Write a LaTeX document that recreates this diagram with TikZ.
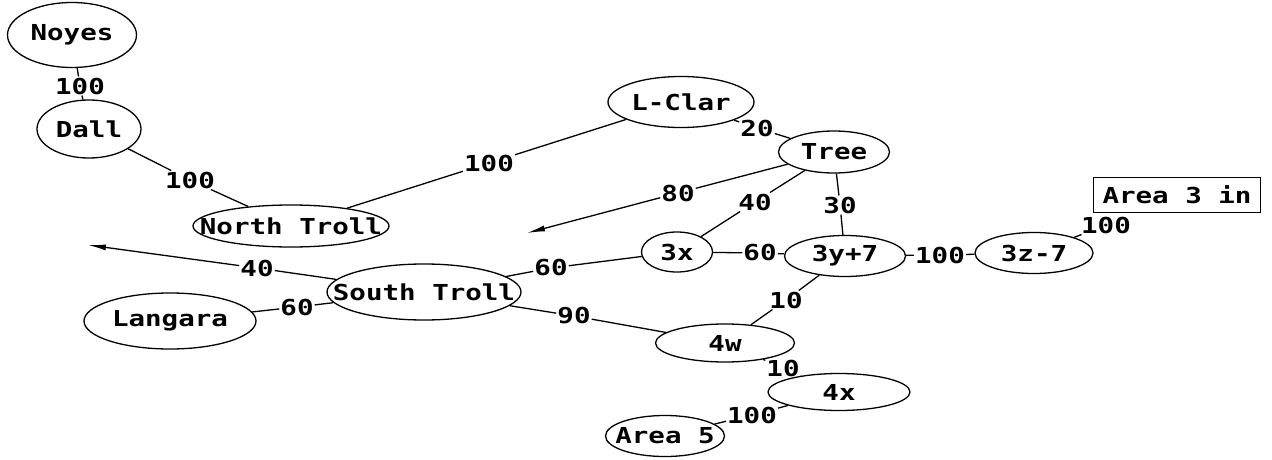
\documentclass[tikz,border=0pt]{standalone}
\usepackage{fontspec}
\newfontfamily\labfont[FakeStretch=1.25]{DejaVu Sans Mono Bold}
\usetikzlibrary{shapes.geometric,arrows.meta}
\newcommand\zw[1]{\makebox[0pt]{#1}}
\begin{document}
\begin{tikzpicture}[x=1pt,y=-1pt,
  every node/.style={font=\labfont\fontsize{22}{24}\selectfont},
  ell/.style={draw,ellipse,line width=1.3pt,inner sep=0pt},
  boxnode/.style={draw,rectangle,line width=1.3pt,inner sep=0pt},
  lab/.style={inner sep=1pt},
  edge/.style={line width=1.3pt},
  arr/.style={line width=1.3pt,-{Latex[length=18pt,width=6pt]}}]
\useasboundingbox (0,0) rectangle (1272,460);
% nodes
\node[ell,minimum width=129pt,minimum height=65pt] (noyes) at (72,35) {\zw{Noyes}};
\node[ell,minimum width=104pt,minimum height=58pt] (dall) at (89,129) {\zw{Dall}};
\node[ell,minimum width=196pt,minimum height=42pt] (north) at (291,226) {\zw{North Troll}};
\node[ell,minimum width=146pt,minimum height=51pt] (lclar) at (681,102) {\zw{L-Clar}};
\node[ell,minimum width=111pt,minimum height=42pt] (tree) at (834,152) {\zw{Tree}};
\node[ell,minimum width=71pt,minimum height=40pt] (x3) at (677,252) {\zw{3x}};
\node[ell,minimum width=121pt,minimum height=41pt] (y3) at (845,256) {\zw{3y+7}};
\node[ell,minimum width=118pt,minimum height=41pt] (z3) at (1034,253) {\zw{3z-7}};
\node[boxnode,minimum width=167pt,minimum height=35pt] (area3) at (1177,195) {\zw{Area 3 in}};
\node[ell,minimum width=194pt,minimum height=56pt] (south) at (424,292) {\zw{South Troll}};
\node[ell,minimum width=172pt,minimum height=56pt] (langara) at (170,321) {\zw{Langara}};
\node[ell,minimum width=139pt,minimum height=38pt] (w4) at (725,343) {\zw{4w}};
\node[ell,minimum width=142pt,minimum height=37pt] (x4) at (839,392) {\zw{4x}};
\node[ell,minimum width=119pt,minimum height=41pt] (area5) at (665,436) {\zw{Area 5}};
% labels
\node[lab] (lnd) at (80,86) {100};
\node[lab] (ldn) at (190,180) {100};
\node[lab] (lln) at (489,163) {100};
\node[lab] (llt) at (757,128) {20};
\node[lab] (lt80) at (678,193) {80};
\node[lab] (lt40) at (755,202) {40};
\node[lab] (lt30) at (840,205) {30};
\node[lab] (lx60) at (760,253) {60};
\node[lab] (ly100) at (940,255) {100};
\node[lab] (lz100) at (1106,225) {100};
\node[lab] (ls40) at (257,268) {40};
\node[lab] (lls60) at (297,307) {60};
\node[lab] (ls60) at (551,268) {60};
\node[lab] (ls90) at (574,316) {90};
\node[lab] (ly10) at (786,300) {10};
\node[lab] (lw10) at (783,368) {10};
\node[lab] (lx100) at (752,415) {100};
% free ends
\coordinate (arrL) at (88,245);
\coordinate (arrM) at (527,233);
% connectors
\draw[edge] (noyes) -- (lnd) -- (dall);
\draw[edge] (dall) -- (ldn) -- (north);
\draw[edge] (lclar) -- (lln) -- (north);
\draw[edge] (lclar) -- (llt) -- (tree);
\draw[arr] (tree) -- (lt80) -- (arrM);
\draw[edge] (tree) -- (lt40) -- (x3);
\draw[edge] (tree) -- (lt30) -- (y3);
\draw[edge] (x3) -- (lx60) -- (y3);
\draw[edge] (y3) -- (ly100) -- (z3);
\draw[edge] (z3) -- (lz100);
\draw[arr] (south) -- (ls40) -- (arrL);
\draw[edge] (langara) -- (lls60) -- (south);
\draw[edge] (south) -- (ls60) -- (x3);
\draw[edge] (south) -- (ls90) -- (w4);
\draw[edge] (y3) -- (ly10) -- (w4);
\draw[edge] (w4) -- (lw10) -- (x4);
\draw[edge] (x4) -- (lx100) -- (area5);
\end{tikzpicture}
\end{document}
